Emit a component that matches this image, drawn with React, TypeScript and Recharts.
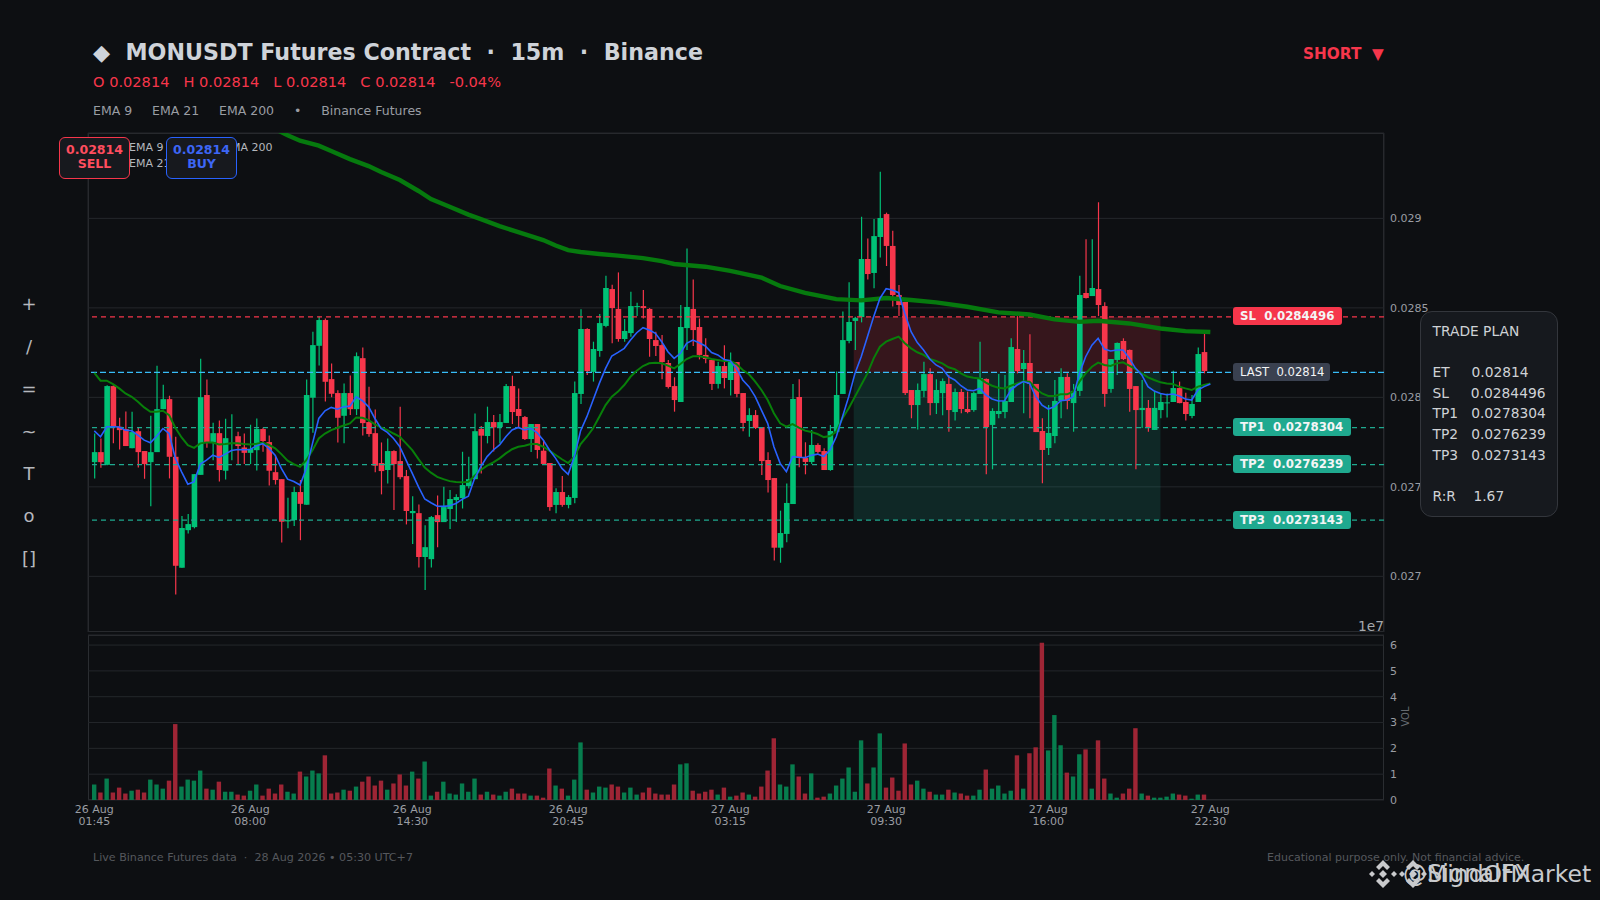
import React from 'react';
import { ComposedChart, Bar, Line, Cell, XAxis, YAxis, CartesianGrid, ReferenceArea, ReferenceLine } from 'recharts';

const opens = [
  2763.8,2769.4,2762.3,2806.3,2783.6,2782.3,2771.6,2781.1,2770,2763.8,2769.4,2793.4,2799,2766.8,2704.8,2725.8,2727.5,2756.7,2801.3,2774.8,
  2780,2759,2774.3,2778.3,2772,2769,2770.5,2782.3,2775,2758.2,2754.3,2730.7,2731.4,2747.1,2740,2799.8,2828.8,2843.2,2810.2,2802.4,
  2789.7,2802.4,2793.4,2821.9,2786.2,2780,2763.3,2759.4,2770,2764.4,2756,2735.3,2735.3,2710.8,2709.6,2734.2,2730.3,2737.6,2742.6,2743.7,
  2750.4,2754.3,2782.3,2778.4,2786.2,2783.4,2785.7,2806.3,2793.5,2789,2776.7,2785.1,2770.2,2763.3,2739.9,2747.1,2739.9,2743.8,2801.9,2838.2,
  2814.2,2825.9,2839.9,2860.5,2849.4,2832.6,2835.9,2850.5,2851,2849.4,2832,2829.2,2819.2,2806.3,2797.4,2838.7,2849.4,2839.3,2823.7,2820.9,
  2807.5,2817.5,2809.7,2819.7,2802.4,2786.8,2790.1,2783.4,2765,2754.9,2716,2723.7,2740.4,2800.2,2766.1,2763.9,2773.4,2770,2759.4,2780.8,
  2801.9,2831.5,2842.7,2844.9,2877.3,2869.5,2889.6,2902.4,2884.6,2857.2,2853.3,2804.1,2795.7,2803.6,2813,2796.8,2802.4,2807.5,2791.8,2803,
  2793.5,2792.9,2801.9,2810.3,2784.6,2790.7,2791.8,2797.4,2827,2815.8,2819.2,2807.5,2781.2,2771.7,2778.4,2798,2811.4,2796.8,2803.6,2858.3,
  2856.6,2860.5,2851,2804.7,2820.9,2831.5,2826.5,2806.3,2792.9,2794.1,2781.8,2792.9,2796.8,2797.4,2805.2,2797.4,2789.6,2797.4,2825.3,
];
const highs = [
  2779.8,2777,2806.8,2806.8,2788.6,2792.1,2791.9,2783,2770,2789.7,2817.6,2807,2800.9,2778,2733.7,2734.8,2757.1,2821.6,2810,2785.8,
  2787.1,2788,2790.6,2780.8,2779.8,2784.7,2788.2,2783,2778.7,2767.7,2754.3,2743.9,2750,2753.8,2810,2836.6,2845.2,2844.1,2818.9,2804,
  2807.8,2812.2,2825.1,2827.9,2805.9,2793.2,2774.8,2777,2770.5,2794.7,2759.4,2744.8,2740.2,2728.6,2733.7,2745.2,2750,2748.2,2745.9,2769.6,
  2766.8,2791,2784,2794.8,2790.1,2790.7,2807.5,2812.1,2805,2789.6,2785.1,2785.1,2776.2,2763.3,2749.2,2756.1,2745.4,2808.8,2849.2,2838.6,
  2831.1,2846.6,2868,2862.9,2869.8,2843.8,2859,2852.9,2860,2849.9,2836.7,2834.8,2820.9,2811.2,2851.6,2883.1,2865.9,2844.1,2833,2821.4,
  2819.9,2829.1,2825,2819.7,2802.4,2793.9,2792.9,2783.4,2769.3,2754.9,2736.7,2751.8,2807.5,2810.1,2774.9,2781.8,2774.3,2771.5,2784.5,2814.4,
  2847.9,2864.3,2845.1,2900.9,2888.8,2899.6,2926.1,2903.2,2893.1,2862.8,2853.3,2804.1,2807.8,2819.9,2816.2,2810.1,2810.6,2812.5,2805,2804.7,
  2803.2,2803.2,2831.1,2810.6,2793.9,2813,2812.5,2833,2845.4,2826.5,2835.2,2807.5,2788.3,2795.7,2809.7,2816.2,2813.4,2807.5,2868,2888.3,
  2888.3,2909,2853.1,2821.4,2830.7,2833,2826.8,2806.3,2809.7,2798.5,2803.2,2802.2,2802.2,2814.9,2808.8,2802.6,2801.3,2827.9,2835.8,
];
const lows = [
  2754.7,2760.7,2762.1,2774.3,2770.9,2772.8,2771.6,2760.8,2754.5,2739.2,2769.4,2793.4,2754.7,2689.9,2704.8,2724,2726.8,2756.7,2771.8,2764.9,
  2753,2754.1,2764.9,2762.7,2762.7,2762.7,2759.2,2769.6,2750.8,2751.3,2718.9,2726.8,2728.1,2720.2,2740,2780.2,2817.8,2797.7,2800,2774.8,
  2774.3,2790.1,2790.1,2778.7,2778,2758.1,2745.8,2751.9,2737,2754.3,2729,2718,2705,2692.3,2705,2716.3,2730.3,2726.4,2730.3,2737.9,
  2749.1,2754.3,2757.5,2774.3,2769.7,2774.3,2785.7,2785.1,2783.2,2776.2,2769.5,2765.9,2762.8,2736.7,2735.2,2738.9,2738,2740.8,2796.3,2812.5,
  2808.8,2822.7,2839.1,2830.2,2831.1,2831.1,2833.9,2845.4,2844.1,2822.7,2823.1,2810.1,2805,2792,2797.4,2826.4,2828.7,2821.2,2819,2804.1,
  2805,2805,2801.1,2800,2781,2778,2782.3,2756.6,2746.9,2708.8,2707.6,2719,2740.4,2760.9,2757,2762.8,2768.7,2759.4,2759,2780.8,
  2801.9,2830.2,2826.5,2841.9,2865.9,2860.9,2878.2,2873.4,2850.7,2845.4,2801.3,2788.3,2782.1,2800,2790,2790.7,2790,2780.8,2787,2791.1,
  2791.1,2792,2801.9,2757,2759.8,2788.3,2788.3,2797.4,2813.4,2791.1,2788.3,2780.6,2752,2767.8,2774.3,2788.3,2793.3,2780.8,2800.8,2855.3,
  2856.6,2845.4,2794.8,2802.6,2812.5,2820.9,2792,2759.8,2782.9,2780.8,2781.8,2788.3,2788.8,2797.4,2796.7,2787,2788.3,2797.4,2813.4,
];
const closes = [
  2769.4,2763.8,2806.3,2783.6,2781.7,2772.8,2780.6,2769.4,2762.7,2769.4,2793.4,2799,2766.8,2705.9,2727,2729.2,2757.1,2800.1,2774.8,2780,
  2759.4,2777.2,2774.6,2772.8,2769,2771.3,2782.3,2775.6,2759,2753.8,2730.5,2731.4,2747.1,2740.5,2801.3,2829.2,2843.2,2808.7,2802,2788.6,
  2802.4,2793.4,2823,2785.6,2779.5,2761.8,2758.8,2770,2762.7,2755.4,2736.5,2736.5,2710.8,2716.3,2733.1,2730.3,2738.7,2743.2,2744.3,2751,
  2754.3,2781.1,2778.6,2786.2,2783.2,2786.2,2806.3,2791.8,2789.6,2776.7,2785.1,2770.6,2762.8,2738.7,2747.1,2739.9,2744.3,2802.4,2838.2,2814.7,
  2827,2841.5,2861.1,2849.9,2832.6,2837.1,2851,2851,2849.9,2832.6,2828.7,2819.7,2805.8,2798.5,2839.3,2850.5,2837.6,2823.7,2821.4,2807.5,
  2817.5,2810.8,2819.7,2801.9,2785.7,2790.1,2782.9,2764.4,2753.8,2716,2724.2,2741,2799.1,2766.1,2763.9,2773.4,2769.5,2759.4,2781.2,2801.3,
  2832,2842.1,2844.3,2877.3,2868.9,2890.1,2900.2,2884.6,2857.2,2851.6,2802.4,2795.7,2804.1,2813,2796.8,2804.1,2809.1,2792.9,2803,2793.5,
  2791.8,2802.4,2810.8,2783.4,2792.4,2792.4,2798,2828.1,2814.7,2819.2,2807.5,2780.6,2770.6,2780.1,2798,2811.4,2798,2803.6,2857.2,2855.5,
  2861.1,2851.6,2801.9,2821.4,2830.4,2821.4,2804.7,2792.9,2794.1,2782.9,2794.1,2797.4,2797.2,2805.2,2796.8,2790.7,2796.3,2824.2,2814.7,
];
const volumes = [
  0.6,0.29,0.83,0.29,0.48,0.25,0.36,0.4,0.29,0.79,0.6,0.44,0.75,2.94,0.52,0.79,0.75,1.14,0.44,0.4,
  0.71,0.32,0.32,0.21,0.17,0.36,0.6,0.17,0.44,0.25,0.6,0.32,0.25,1.1,0.91,1.14,1.03,1.73,0.25,0.29,
  0.4,0.36,0.52,0.71,0.91,0.56,0.75,0.4,0.64,0.99,0.56,1.1,0.83,1.49,0.17,0.32,0.71,0.25,0.21,0.64,
  0.32,0.83,0.21,0.32,0.21,0.17,0.32,0.44,0.25,0.25,0.17,0.17,0.09,1.22,0.56,0.44,0.17,0.79,2.23,0.4,
  0.29,0.52,0.48,0.6,0.52,0.29,0.48,0.21,0.29,0.48,0.25,0.21,0.21,0.6,1.38,1.42,0.36,0.25,0.32,0.4,
  0.21,0.48,0.13,0.17,0.29,0.21,0.13,0.52,1.14,2.39,0.6,0.52,1.38,0.91,0.25,1.03,0.09,0.13,0.25,0.56,
  0.83,1.26,0.32,2.31,0.64,1.26,2.58,0.48,0.87,0.36,2.19,0.6,0.75,0.44,0.32,0.21,0.21,0.4,0.29,0.25,
  0.17,0.17,0.4,1.18,0.44,0.56,0.25,0.36,1.73,0.44,1.81,2.04,6.09,1.92,3.29,2.12,1.06,0.91,1.77,1.96,
  0.44,2.31,0.83,0.25,0.09,0.25,0.44,2.78,0.25,0.17,0.09,0.09,0.13,0.25,0.21,0.17,0.05,0.21,0.21,
];
const ema9 = [
  2781.3,2778,2783.6,2783.6,2783.4,2781.7,2781.3,2778.9,2776.1,2774.6,2778.3,2782.6,2779.8,2765.9,2758.4,2751.5,2752.8,2762.7,2764.9,2767.7,
  2766.4,2768.3,2770.3,2770.9,2770.7,2770.9,2772.9,2774.1,2771.5,2767.7,2760.3,2754.3,2753,2751,2760.3,2774.3,2788.2,2792.5,2794.4,2793.4,
  2794.7,2795.1,2800.3,2798.1,2794.7,2788.2,2782.6,2780.4,2777,2772.4,2764.9,2757.5,2750,2743.2,2741.1,2739.2,2739.1,2739.4,2740.7,2743,
  2744.8,2754.8,2761.3,2766.9,2770.6,2773.4,2778,2781.8,2783.2,2781.8,2782.7,2780.3,2776.2,2770.6,2765.9,2760.3,2757,2766.9,2781.4,2789.2,
  2798.5,2807.8,2816.2,2823.1,2825.1,2827.4,2832,2836.1,2838.9,2837.6,2835.8,2831.1,2825.5,2821.8,2824.6,2830.2,2832,2830.5,2828.7,2825,
  2823.7,2821.2,2820.5,2816.2,2809.7,2806,2800.4,2792.9,2785.5,2772.4,2763.1,2758.5,2766.9,2766.5,2766.3,2767.6,2768.3,2766.9,2770.6,2778,
  2789.2,2800.4,2813.4,2822.7,2833.9,2845.1,2855.3,2860.7,2860,2858.5,2846.9,2836.7,2830.6,2826.5,2821.4,2818.1,2816.2,2811.6,2809.7,2806.5,
  2804.1,2803.7,2805,2801.3,2799.1,2798,2798.1,2804.1,2806.9,2808.8,2807.8,2800.4,2795.7,2793.5,2794.8,2798.1,2798.5,2800.4,2813.4,2822.7,
  2829.2,2833,2827,2825.9,2826.5,2826.5,2821.8,2816.2,2812.5,2806,2803.5,2802.2,2801.5,2801.9,2800.8,2799.1,2798.5,2804.1,2806,2807.5,
];
const ema21 = [
  2813.7,2809.3,2809.3,2807.4,2805,2802.2,2800.3,2797.5,2794.4,2791.9,2791.9,2792.5,2790.1,2783,2777.6,2773.3,2771.8,2774.3,2774.8,2774.8,
  2773.7,2773.9,2774.3,2774.3,2773.9,2773.7,2774.1,2774.6,2773.5,2771.5,2768.3,2764.6,2762.7,2761.2,2764.9,2770.5,2777,2779.8,2781.7,2783,
  2784.3,2785.4,2788.8,2788.6,2787.3,2784.9,2783.2,2781.7,2779.8,2778,2774.3,2770.5,2765.5,2760.8,2757.9,2755.6,2754.3,2753.2,2752.7,2752.5,
  2752.8,2756.2,2759.4,2761.8,2763.7,2765.9,2768.7,2771,2772.4,2773,2773.9,2773.9,2772.4,2770.2,2767.8,2765.4,2763.3,2766.9,2773.9,2778,
  2782.7,2789.2,2795.7,2800.4,2803.2,2806.9,2811.5,2814.9,2817.5,2819,2819.4,2819,2817.7,2816.2,2818.6,2821.4,2822.9,2822.9,2822.4,2821.4,
  2820.9,2820.3,2820.5,2818.6,2815.3,2812.9,2808.8,2804.1,2798.5,2791.1,2785.5,2783.6,2785.1,2783.1,2781.4,2780.6,2779.5,2777.8,2778.4,2780.8,
  2788.3,2793.9,2800.4,2806.9,2813.4,2821.8,2828.3,2831.1,2832.6,2833.9,2830.2,2827.4,2825.2,2823.7,2821.4,2820.3,2819,2816.8,2815.7,2813.4,
  2811.6,2811,2810.6,2808.2,2806.5,2805.4,2805,2806.5,2807.8,2809,2808.8,2805,2802.2,2800.8,2800.8,2801.7,2801.7,2803.2,2808.8,2813.4,
  2817.1,2819.4,2818.1,2817.5,2819,2819.6,2817.7,2815.8,2813.4,2811.2,2809.7,2808.4,2807.8,2807.5,2806,2805,2804.1,2806,2806.9,2807.8,
];
const ema200Index = [
  28,31,33,36,38,41,44,46,49,52,54,57,60,62,65,68,72,74,76,78,81,84,88,91,93,98,102,107,110,114,
  119,123,127,131,135,140,145,150,154,158,161,166,171,175,179,
];
const ema200 = [
  2951.6,2946.5,2943.4,2940.6,2937.6,2933.1,2929.2,2925.9,2921.4,2915.3,2910.8,2906.5,2902.1,2899.6,2895.7,2892.3,2887.9,2884.8,2882.3,2881.2,2880.1,2879.2,2877.8,2876.1,2874.5,2873,2870.7,2866.9,2862.2,2858.4,
  2854.9,2854.2,2855.5,2854.4,2853.1,2850.6,2847.5,2846.3,2843.6,2842.2,2842.8,2841.3,2838.5,2837,2836.5,
];

const tickIndex = [0, 25, 51, 76, 102, 127, 153, 179];
const tickDates = ['26 Aug', '26 Aug', '26 Aug', '26 Aug', '27 Aug', '27 Aug', '27 Aug', '27 Aug'];
const tickTimes = ['01:45', '08:00', '14:30', '20:45', '03:15', '09:30', '16:00', '22:30'];
const priceTicks = [0.027, 0.0275, 0.028, 0.0285, 0.029];
const volumeTicks = [0, 1, 2, 3, 4, 5, 6];

const ENTRY = 0.02814;
const STOP = 0.0284496;
const targets = [0.0278304, 0.0276239, 0.0273143];

const GREEN = '#00c176';
const RED = '#f6364b';
const GRID = '#24272b';
const FONT = '"DejaVu Sans", sans-serif';
const X_DOMAIN = [-1.01, 206.85];

const rows = ema9.map((_, i) => {
  const row: any = { i, ema9: ema9[i] / 1e5, ema21: ema21[i] / 1e5 };
  if (i < opens.length) {
    row.open = opens[i] / 1e5;
    row.high = highs[i] / 1e5;
    row.low = lows[i] / 1e5;
    row.close = closes[i] / 1e5;
    row.range = [row.low, row.high];
    row.volume = volumes[i];
    row.up = closes[i] >= opens[i];
  }
  const k = ema200Index.indexOf(i);
  if (k >= 0) row.ema200 = ema200[k] / 1e5;
  return row;
});

function Candle(props: any) {
  const { x, y, width, height, payload } = props;
  if (!payload || payload.range == null) return null;
  const { open, high, low, close, up } = payload;
  const top = Math.min(y, y + height);
  const full = Math.abs(height);
  const perUnit = full / (high - low);
  const bodyTop = top + (high - Math.max(open, close)) * perUnit;
  const bodyHeight = Math.max(Math.abs(open - close) * perUnit, 1);
  const color = up ? GREEN : RED;
  const mid = x + width / 2;
  const bodyWidth = 5.6;
  return (
    <g>
      <line x1={mid} x2={mid} y1={top} y2={top + full} stroke={color} strokeWidth={1.2} />
      <rect x={mid - bodyWidth / 2} y={bodyTop} width={bodyWidth} height={bodyHeight} fill={color} />
    </g>
  );
}

function VolumeBar(props: any) {
  const { x, y, width, height, fill } = props;
  const w = 4.4;
  return <rect x={x + width / 2 - w / 2} y={y} width={w} height={height} fill={fill} />;
}

function DateTick(props: any) {
  const { x, y, payload } = props;
  const k = tickIndex.indexOf(payload.value);
  return (
    <text x={x} textAnchor="middle" fontFamily={FONT} fontSize={11} fill="#9a9da3">
      <tspan x={x} y={y + 5}>{tickDates[k]}</tspan>
      <tspan x={x} y={y + 17}>{tickTimes[k]}</tspan>
    </text>
  );
}

function PriceLabel({ top, width, bg, children, bold = true }: any) {
  return (
    <div style={{ position: 'absolute', left: 1233, top, width, height: 18, background: bg, borderRadius: 3, color: '#f4f5f6', fontFamily: FONT, fontSize: bold ? 11.8 : 11.6, fontWeight: bold ? 700 : 400, lineHeight: '18px', paddingLeft: 7, boxSizing: 'border-box', whiteSpace: 'pre' }}>
      {children}
    </div>
  );
}

function Badge({ left, color, textColor, label }: any) {
  return (
    <div style={{ position: 'absolute', left, top: 136.5, width: 71, height: 42, boxSizing: 'border-box', border: `1.4px solid ${color}`, borderRadius: 6, background: '#17191e', color: textColor, fontFamily: FONT, fontWeight: 700, fontSize: 12.5, lineHeight: '14px', textAlign: 'center', paddingTop: 5.5 }}>
      0.02814<br />{label}
    </div>
  );
}

function LogoMark({ left }: any) {
  return (
    <svg style={{ position: 'absolute', left, top: 859 }} width={30} height={30} viewBox="0 0 30 30">
      <g fill="#c9cacc">
        <polygon points="15,1 22,8 19,11 15,7 11,11 8,8" />
        <polygon points="15,29 22,22 19,19 15,23 11,19 8,22" />
        <polygon points="4,12 7,15 4,18 1,15" />
        <polygon points="26,12 29,15 26,18 23,15" />
        <polygon points="15,11 19,15 15,19 11,15" />
      </g>
    </svg>
  );
}

const text = (left: number, top: number, content: string, style: any) => (
  <div style={{ position: 'absolute', left, top, fontFamily: FONT, whiteSpace: 'pre', ...style }}>{content}</div>
);

const tools = ['+', '/', '=', '~', 'T', 'o', '[]'];
const toolY = [304, 347, 389, 432, 473.5, 516, 559];
const planLines = ['TRADE PLAN', '', 'ET     0.02814', 'SL     0.0284496', 'TP1   0.0278304', 'TP2   0.0276239', 'TP3   0.0273143', '', 'R:R    1.67'];

export default function App() {
  return (
    <div style={{ position: 'absolute', left: 0, top: 0, width: 1600, height: 900, background: '#0d0f12', overflow: 'hidden' }}>
      {/* panel frames */}
      <div style={{ position: 'absolute', left: 88, top: 133, width: 1296, height: 499, boxSizing: 'border-box', border: '1px solid #2a2d31' }} />
      <div style={{ position: 'absolute', left: 88, top: 635, width: 1296, height: 165, boxSizing: 'border-box', border: '1px solid #2a2d31' }} />

      <div style={{ position: 'absolute', left: 0, top: 0 }}>
        <ComposedChart width={1600} height={632} data={rows} margin={{ top: 133, right: 0, bottom: 0, left: 88 }}>
          <CartesianGrid stroke={GRID} />
          <XAxis dataKey="i" type="number" domain={X_DOMAIN} ticks={tickIndex} allowDataOverflow tick={false} tickLine={false} axisLine={false} height={0} />
          <YAxis orientation="right" width={216} domain={[0.026689, 0.029477]} ticks={priceTicks} allowDataOverflow tickLine={false} axisLine={false} tickSize={4} tickMargin={2} tick={{ fill: '#9a9da3', fontSize: 11, fontFamily: FONT }} />
          <ReferenceArea x1={121.8} x2={171} y1={ENTRY} y2={STOP} fill={RED} fillOpacity={0.18} stroke="none" />
          <ReferenceArea x1={121.8} x2={171} y1={targets[2]} y2={ENTRY} fill="#1fa98f" fillOpacity={0.17} stroke="none" />
          <ReferenceLine y={STOP} stroke={RED} strokeDasharray="5 4" strokeWidth={1.2} />
          <ReferenceLine y={ENTRY} stroke="#38bdf8" strokeDasharray="6 3" strokeWidth={1.2} />
          {targets.map((t) => (
            <ReferenceLine key={t} y={t} stroke="#1fa98f" strokeDasharray="5 4" strokeWidth={1.2} />
          ))}
          <Bar dataKey="range" barSize={5} shape={<Candle />} isAnimationActive={false} />
          <Line dataKey="ema200" stroke="#067a0e" strokeWidth={4.4} dot={false} connectNulls isAnimationActive={false} />
          <Line dataKey="ema21" stroke="#087f0a" strokeWidth={2} dot={false} isAnimationActive={false} />
          <Line dataKey="ema9" stroke="#2962ff" strokeWidth={1.6} dot={false} isAnimationActive={false} />
        </ComposedChart>
      </div>

      <div style={{ position: 'absolute', left: 0, top: 0 }}>
        <ComposedChart width={1600} height={840} data={rows} margin={{ top: 635, right: 0, bottom: 0, left: 88 }}>
          <CartesianGrid stroke={GRID} vertical={false} />
          <XAxis dataKey="i" type="number" domain={X_DOMAIN} ticks={tickIndex} allowDataOverflow interval={0} tick={<DateTick />} tickLine={false} axisLine={false} height={40} />
          <YAxis orientation="right" width={216} domain={[0, 6.39]} ticks={volumeTicks} allowDataOverflow tickLine={false} axisLine={false} tickSize={4} tickMargin={2} tick={{ fill: '#9a9da3', fontSize: 11, fontFamily: FONT }} />
          <Bar dataKey="volume" barSize={4} shape={<VolumeBar />} isAnimationActive={false}>
            {rows.map((r) => (
              <Cell key={r.i} fill={r.up ? '#077d4e' : '#9e2535'} />
            ))}
          </Bar>
        </ComposedChart>
      </div>

      {text(93, 39, '◆  MONUSDT Futures Contract  ·  15m  ·  Binance', { fontSize: 22.2, fontWeight: 700, color: '#cfd3d9' })}
      {text(93, 73, 'O 0.02814   H 0.02814   L 0.02814   C 0.02814   -0.04%', { fontSize: 14.6, color: RED })}
      {text(93, 103, 'EMA 9     EMA 21     EMA 200     •     Binance Futures', { fontSize: 12.5, color: '#9a9da3' })}
      {text(1303, 45, 'SHORT  ▼', { fontSize: 15.3, fontWeight: 700, color: RED })}

      {text(129, 141, 'EMA 9', { fontSize: 11, color: '#b5b8bd' })}
      {text(224, 141, 'EMA 200', { fontSize: 11, color: '#b5b8bd' })}
      {text(129, 157, 'EMA 21', { fontSize: 11, color: '#b5b8bd' })}
      <Badge left={59} color={RED} textColor="#ff4d5e" label="SELL" />
      <Badge left={166} color="#2962ff" textColor="#3d66f5" label="BUY" />

      {tools.map((t, i) => text(0, toolY[i] - 11, t, { width: 58, textAlign: 'center', fontSize: 18, color: '#b5b8bd' }))}

      {text(1358, 618, '1e7', { fontSize: 13.8, color: '#a5a8ad' })}
      {text(1395, 711, 'VOL', { fontSize: 10, color: '#666a70', transform: 'rotate(-90deg)' })}

      <PriceLabel top={307.3} width={109} bg={RED}>{'SL  0.0284496'}</PriceLabel>
      <PriceLabel top={362.7} width={97} bg="#3a4150" bold={false}>{'LAST  0.02814'}</PriceLabel>
      <PriceLabel top={418} width={118} bg="#1fa98f">{'TP1  0.0278304'}</PriceLabel>
      <PriceLabel top={455} width={118} bg="#1fa98f">{'TP2  0.0276239'}</PriceLabel>
      <PriceLabel top={510.5} width={118} bg="#1fa98f">{'TP3  0.0273143'}</PriceLabel>

      <div style={{ position: 'absolute', left: 1419.5, top: 311, width: 138.5, height: 205.5, boxSizing: 'border-box', background: '#16191e', border: '1.4px solid #33363c', borderRadius: 12, padding: '9px 0 0 12px', fontFamily: FONT, fontSize: 13.8, lineHeight: '20.6px', color: '#cfd2d6', whiteSpace: 'pre' }}>
        {planLines.map((l, i) => <div key={i} style={{ height: 20.6 }}>{l}</div>)}
      </div>

      {text(93, 851, 'Live Binance Futures data  ·  28 Aug 2026 • 05:30 UTC+7', { fontSize: 11.1, color: '#55585d' })}
      {text(1267, 851, 'Educational purpose only. Not financial advice.', { fontSize: 11, color: '#55585d' })}
      <LogoMark left={1368} />
      <LogoMark left={1398} />
      {text(1403, 860, '@SignalFX', { fontSize: 24, color: '#c8cacd' })}
      {text(1427, 860, 'MindOfMarket', { fontSize: 23.5, color: '#c8cacd' })}
    </div>
  );
}
